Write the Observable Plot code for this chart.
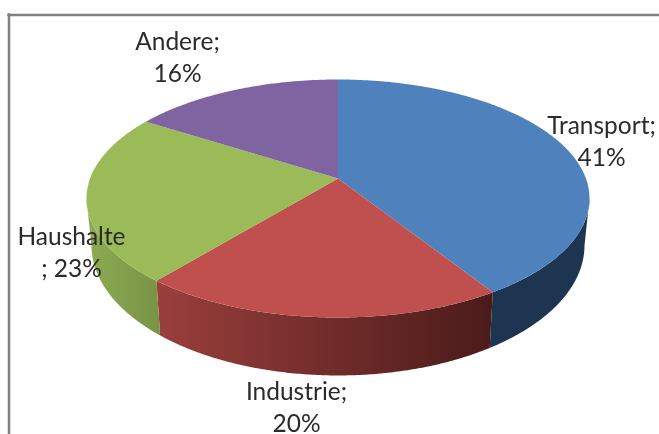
<!DOCTYPE html>
<html>
<head>
<meta charset="utf-8">
<script src="https://cdn.jsdelivr.net/npm/d3@7"></script>
<script src="https://cdn.jsdelivr.net/npm/@observablehq/plot@0.6"></script>
<style>
html,body{margin:0;padding:0;background:#fff;}
svg{display:block;filter:blur(0.45px);}
</style>
</head>
<body>
<div id="chart"></div>
<script>
// Data
const categories = ["Transport", "Industrie", "Haushalte", "Andere"];
const shares = [41, 20, 23, 16];
const labelTexts = ["Transport;\n41%", "Industrie;\n20%", "Haushalte\n; 23%", "Andere;\n16%"];

// Styles
const topColors = ["#4f81bd", "#c0504d", "#9bbb59", "#8064a2"];
const wallStart = ["#1d3550", "#9a3f3c", "#8dab52", "#5f4a78"];
const wallEnd = ["#1d3550", "#4a1b1a", "#789345", "#5f4a78"];

// Layout in page pixels; the x/y scales map the pie's unit ellipse on to them
const rimLeft = 86, rimRight = 589, rimTop = 79, rimBottom = 317;
const tilt = -0.168;            // perspective shift of the pie's apex
const lowerScaleX = 0.98, lowerShiftY = 0.395, lowerScaleY = 1.092;
const pxX = (p) => ((p - rimLeft) / (rimRight - rimLeft)) * 2 - 1;
const pxY = (p) => ((p - rimTop) / (rimBottom - rimTop)) * 2 - 1;

const labelX = [601, 296, 71, 177];
const labelY = [139, 405, 250, 55];

const rim = (turn) => {
  const a = 2 * Math.PI * turn, u = Math.sin(a), v = -Math.cos(a);
  const d = 1 + tilt * v;
  return [u * Math.sqrt(1 - tilt * tilt) / d, (v + tilt) / d];
};
const total = d3.sum(shares);
const edges = d3.cumsum([0, ...shares]).map((s) => s / total);
const arc = (i) => {
  const n = Math.max(2, Math.ceil((edges[i + 1] - edges[i]) * 720));
  return d3.range(n + 1).map((k) => rim(edges[i] + ((edges[i + 1] - edges[i]) * k) / n));
};
const topPoly = (i) => [[0, tilt], ...arc(i)];
// Only the front-facing part of a wall is drawn: the back part is hidden by the top
const wallPoly = (i) => {
  const a = arc(i).filter(([, y]) => y >= 0);
  return [...a, ...a.slice().reverse().map(([x, y]) => [x * lowerScaleX, lowerShiftY + y * lowerScaleY])];
};

const defs = () => {
  const d = d3.create("svg:defs");
  categories.forEach((c, i) => {
    const g = d.append("linearGradient").attr("id", "wall" + i).attr("x1", 0).attr("x2", 1).attr("y1", 0).attr("y2", 0);
    g.append("stop").attr("offset", 0).attr("stop-color", wallStart[i]);
    g.append("stop").attr("offset", 1).attr("stop-color", wallEnd[i]);
  });
  return d.node();
};

const polyMark = (pts, fill) =>
  Plot.line(pts, {x: (d) => d[0], y: (d) => d[1], fill, stroke: "none", curve: "linear"});

const frameColor = "#808080";
const chart = Plot.plot({
  width: 659,
  height: 434,
  margin: 0,
  x: {domain: [-1, 1], range: [rimLeft, rimRight], axis: null},
  y: {domain: [-1, 1], range: [rimTop, rimBottom], axis: null},
  marks: [
    defs,
    Plot.ruleY([pxY(14.5)], {x1: pxX(7.25), x2: pxX(659), stroke: frameColor, strokeWidth: 2.5}),
    Plot.ruleX([pxX(8.5)], {y1: pxY(13.25), y2: pxY(434), stroke: frameColor, strokeWidth: 2.5}),
    ...categories.map((c, i) => polyMark(wallPoly(i), `url(#wall${i})`)),
    ...categories.map((c, i) => polyMark(topPoly(i), topColors[i])),
    Plot.text(categories.map((c, i) => i), {
      x: (i) => pxX(labelX[i]),
      y: (i) => pxY(labelY[i]),
      text: (i) => labelTexts[i],
      fontFamily: "Lato",
      fontSize: 24.5,
      lineHeight: 32 / 24.5,
      lineAnchor: "middle",
      textAnchor: "middle",
      fill: "#2b2b2b"
    })
  ]
});
document.getElementById("chart").appendChild(chart);
</script>
</body>
</html>
